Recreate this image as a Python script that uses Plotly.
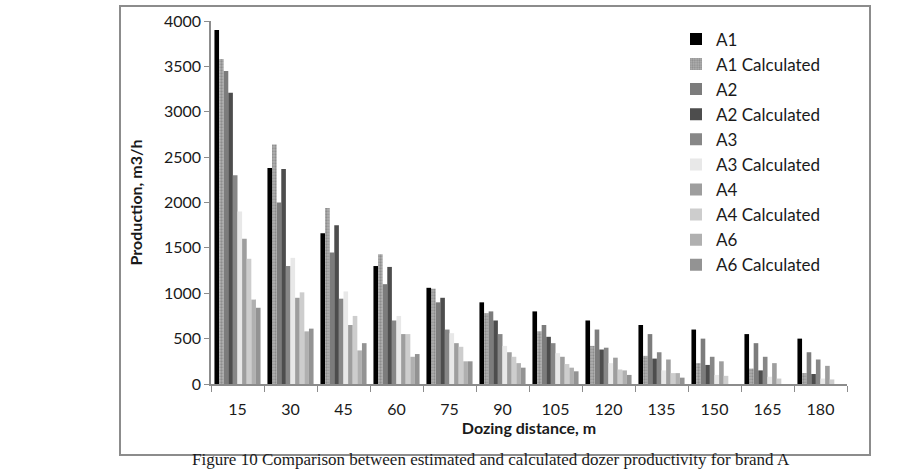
import plotly.graph_objects as go

distances = ["15", "30", "45", "60", "75", "90", "105", "120", "135", "150", "165", "180"]
a1 = [3900, 2380, 1660, 1300, 1060, 900, 800, 700, 650, 600, 550, 500]
a1_calc = [3580, 2640, 1940, 1430, 1050, 780, 580, 420, 310, 230, 170, 120]
a2 = [3450, 2000, 1450, 1100, 900, 800, 650, 600, 550, 500, 450, 350]
a2_calc = [3210, 2370, 1750, 1290, 950, 700, 520, 380, 280, 210, 150, 110]
a3 = [2300, 1300, 940, 700, 600, 550, 450, 400, 350, 300, 300, 270]
a3_calc = [1900, 1390, 1020, 750, 560, 420, 340, 230, 150, 100, 80, 60]
a4 = [1600, 950, 650, 550, 450, 350, 300, 290, 270, 250, 230, 200]
a4_calc = [1380, 1010, 750, 550, 410, 300, 220, 160, 120, 90, 60, 50]
a6 = [930, 580, 370, 300, 250, 230, 180, 150, 120, None, None, None]
a6_calc = [840, 610, 450, 330, 250, 180, 140, 100, 70, None, None, None]

series = [
    ("A1", a1, "#000000", None),
    ("A1 Calculated", a1_calc, "#b0b0b0", "#6a6a6a"),
    ("A2", a2, "#7c7c7c", None),
    ("A2 Calculated", a2_calc, "#4d4d4d", None),
    ("A3", a3, "#878787", None),
    ("A3 Calculated", a3_calc, "#e8e8e8", None),
    ("A4", a4, "#9e9e9e", None),
    ("A4 Calculated", a4_calc, "#cdcdcd", None),
    ("A6", a6, "#b0b0b0", None),
    ("A6 Calculated", a6_calc, "#939393", None),
]

fig = go.Figure()
for name, vals, color, fg in series:
    marker = dict(color=color, line=dict(width=0))
    if fg:
        marker["pattern"] = dict(shape=".", fgcolor=fg, bgcolor=color, size=3, solidity=0.45)
    fig.add_trace(go.Bar(name=name, x=distances, y=vals, marker=marker))

L, R, T, B = 211, 847, 21, 384
W, H = 919, 472
pw, ph = R - L, B - T

def px(x):
    return (x - L) / pw

def py(y):
    return (B - y) / ph

fig.update_layout(
    width=W, height=H,
    margin=dict(l=L, r=W - R, t=T, b=H - B),
    paper_bgcolor="white", plot_bgcolor="white",
    barmode="group", bargap=0.13, bargroupgap=0,
    font=dict(family="Lato", size=16, color="#1a1a1a"),
    showlegend=True,
    legend=dict(x=px(676), y=0.999, xanchor="left", yanchor="top",
                bgcolor="rgba(0,0,0,0)", font=dict(family="Lato", size=17, color="#1a1a1a"),
                traceorder="normal"),
    xaxis=dict(showline=True, linecolor="#8c8c8c", linewidth=1.5, ticks="outside",
               tickson="boundaries", ticklen=6, tickcolor="#8c8c8c", showgrid=False,
               ticklabelstandoff=10,
               title=dict(text="<b>Dozing distance, m</b>", font=dict(size=16), standoff=4)),
    yaxis=dict(range=[0, 4000], dtick=500, showline=True, linecolor="#8c8c8c", linewidth=1.5,
               ticks="outside", ticklen=5, tickcolor="#8c8c8c", showgrid=False, zeroline=False,
               title=dict(text="<b>Production, m3/h</b>", font=dict(size=16), standoff=17)),
    shapes=[dict(type="rect", xref="paper", yref="paper",
                 x0=px(120), x1=px(870), y0=py(455), y1=py(6),
                 line=dict(color="#8c8c8c", width=2), fillcolor="rgba(0,0,0,0)", layer="below")],
    annotations=[dict(text="Figure 10 Comparison between estimated and calculated dozer productivity for brand A",
                      xref="paper", yref="paper", x=px(491), y=py(471), xanchor="center", yanchor="bottom",
                      showarrow=False, font=dict(family="Liberation Serif", size=17, color="#1a1a1a"))],
)

fig.write_html("out.html")
